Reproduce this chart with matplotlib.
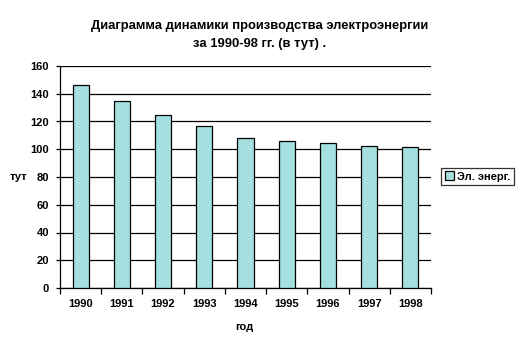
import matplotlib
matplotlib.use("Agg")
import matplotlib.pyplot as plt
import numpy as np

years = ["1990", "1991", "1992", "1993", "1994", "1995", "1996", "1997", "1998"]
values = [146, 135, 124.5, 117, 108, 106, 104.5, 102, 101.5]
yticks = [0, 20, 40, 60, 80, 100, 120, 140, 160]
series_name = "Эл. энерг."
title = "Диаграмма динамики производства электроэнергии\nза 1990-98 гг. (в тут) ."

plt.rcParams['font.family'] = ['Liberation Sans', 'DejaVu Sans']
plt.rcParams['font.weight'] = 'bold'

fig = plt.figure(figsize=(5.25, 3.55), dpi=100)
W, H = 525, 355
ax = fig.add_axes([60 / W, 1 - 288 / H, (431 - 60) / W, (288 - 66) / H])

x = np.arange(len(years))
ax.bar(x, values, width=0.39, color='#A4E0E0', edgecolor='black', linewidth=0.9,
       zorder=3, label=series_name)
ax.set_xlim(-0.5, len(years) - 0.5)
ax.set_ylim(0, 160)
ax.set_yticks(yticks)
ax.yaxis.grid(True, color='black', linewidth=0.9, zorder=0)
for s in ['top', 'right']:
    ax.spines[s].set_visible(False)
ax.spines['left'].set_linewidth(0.9)
ax.spines['bottom'].set_linewidth(0.9)

ax.set_xticks(x)
ax.set_xticklabels(years, fontsize=8, fontweight='bold')
ax.tick_params(axis='x', length=0, pad=8)
ax.set_xticks(np.arange(-0.5, len(years)), minor=True)
ax.tick_params(axis='x', which='minor', length=4, width=0.9, direction='out')
ax.tick_params(axis='y', labelsize=8, length=3, width=0.9, pad=5)
for lab in ax.get_yticklabels():
    lab.set_fontweight('bold')

fig.text(260 / W, 1 - 35 / H, title, ha='center', va='center', fontsize=9.4,
         fontweight='bold', linespacing=1.7)
fig.text(18 / W, 1 - 177 / H, "тут", ha='center', va='center', fontsize=8, fontweight='bold')
fig.text(244 / W, 1 - 327 / H, "год", ha='center', va='center', fontsize=8, fontweight='bold')

leg = fig.legend(loc='center', bbox_to_anchor=(477.5 / W, 1 - 176.5 / H), fontsize=8,
                 frameon=True, fancybox=False, edgecolor='black', handlelength=0.8,
                 handleheight=0.8, handletextpad=0.3, borderpad=0.35, borderaxespad=0)
leg.get_frame().set_linewidth(0.9)
for t in leg.get_texts():
    t.set_fontweight('bold')

fig.savefig("out.png", dpi=100)
